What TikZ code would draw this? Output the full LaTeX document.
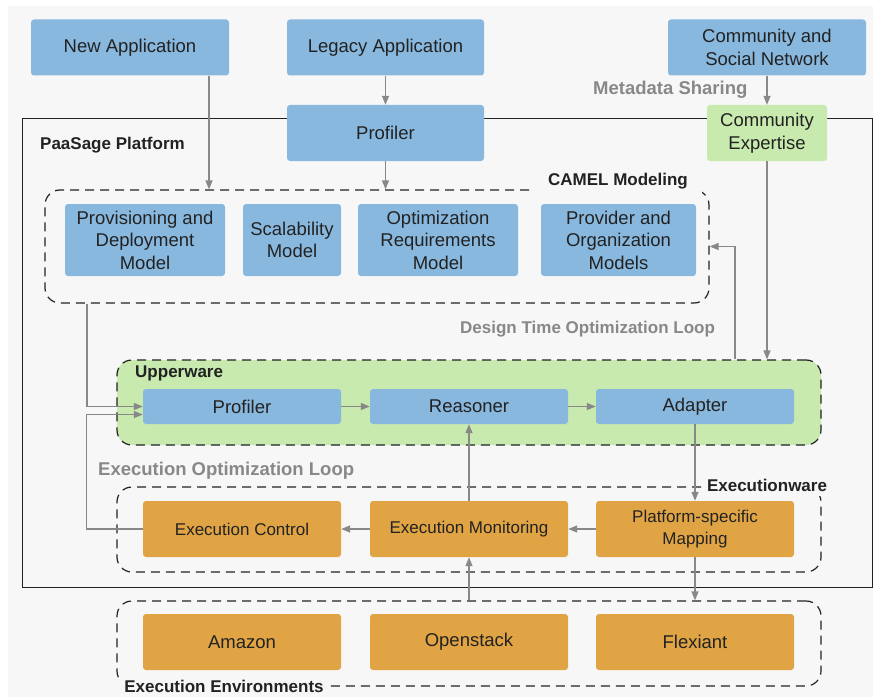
\documentclass[tikz,border=0pt]{standalone}
\usepackage{fontspec}
\setmainfont{Liberation Sans}
\usetikzlibrary{arrows.meta}
\definecolor{bg}{HTML}{F7F7F7}
\definecolor{boxblue}{HTML}{89B8DF}
\definecolor{boxorange}{HTML}{E0A445}
\definecolor{boxgreen}{HTML}{C8EAAE}
\definecolor{arrgray}{HTML}{888888}
\definecolor{ink}{HTML}{222222}
\begin{document}
\begin{tikzpicture}[x=1pt,y=-1pt,
  box/.style={fill=boxblue,rounded corners=3pt,text=ink,align=center,inner sep=0pt,
    minimum width=198pt,minimum height=56pt,font=\fontsize{18.5}{22.5}\selectfont},
  runbox/.style={box,fill=boxorange},
  group/.style={draw=ink,line width=1.2pt,dash pattern=on 9pt off 6pt,rounded corners=15pt,inner sep=0pt},
  title/.style={text=ink,font=\fontsize{17}{20}\selectfont\bfseries,inner sep=0pt},
  loop/.style={text=arrgray,font=\fontsize{17}{20}\selectfont\bfseries,inner sep=0pt},
  arr/.style={draw=arrgray,line width=1.3pt,-{Triangle[length=9pt,width=7pt]}}]
\useasboundingbox (0,0) rectangle (875,698);
\fill[bg] (8,6) rectangle (873,697);
\draw[ink,line width=1pt] (22,119) rectangle (872,587);

% groups
\node[group,minimum width=664pt,minimum height=113pt] (camel) at (377,246.5) {};
\node[group,fill=boxgreen,minimum width=704pt,minimum height=85pt] (upper) at (469,402.5) {};
\node[group,minimum width=704pt,minimum height=85pt] (exware) at (469,529.5) {};
\node[group,minimum width=704pt,minimum height=85pt] (env) at (469,643.5) {};
\node[title,fill=bg,inner xsep=14pt,inner ysep=5pt] (camellbl) at (618,181) {CAMEL Modeling};
\node[title,fill=bg,inner xsep=3pt,inner ysep=5pt] (exlbl) at (767,485) {Executionware};
\node[title,fill=bg,inner xsep=3pt,inner ysep=5pt] (envlbl) at (224,686) {Execution Environments};
\node[title,anchor=west] (paaslbl) at (40,145) {PaaSage Platform};
\node[title,anchor=west] (upperlbl) at (135,373) {Upperware};

% boxes
\node[box] (newapp) at (130,47.5) {New Application};
\node[box,minimum width=197pt] (legacy) at (385.5,47.5) {Legacy Application};
\node[box] (commnet) at (767,47.5) {Community and\\Social Network};
\node[box,minimum width=197pt] (profA) at (385.5,133) {Profiler};
\node[box,fill=boxgreen,minimum width=120pt] (expert) at (767,133) {Community\\Expertise};
\node[box,minimum width=160pt,minimum height=72pt] (prov) at (145,240) {Provisioning and\\Deployment\\Model};
\node[box,minimum width=98pt,minimum height=72pt] (scal) at (292,240) {Scalability\\Model};
\node[box,minimum width=160pt,minimum height=72pt] (optreq) at (438,240) {Optimization\\Requirements\\Model};
\node[box,minimum width=155pt,minimum height=72pt] (provorg) at (618.5,240) {Provider and\\Organization\\Models};
\node[box,minimum height=35pt] (prof) at (242,406.5) {Profiler};
\node[box,minimum height=35pt] (reas) at (469,406.5) {Reasoner};
\node[box,minimum height=35pt] (adapt) at (695,406.5) {Adapter};
\node[runbox,font=\fontsize{17}{21.5}\selectfont] (exctl) at (242,529) {Execution Control};
\node[runbox,font=\fontsize{17}{21.5}\selectfont] (exmon) at (469,529) {Execution Monitoring};
\node[runbox,font=\fontsize{17}{21.5}\selectfont] (mapping) at (695,529) {Platform-specific\\Mapping};
\node[runbox] (amazon) at (242,642) {Amazon};
\node[runbox] (openstack) at (469,642) {Openstack};
\node[runbox] (flexiant) at (695,642) {Flexiant};

\node[loop,anchor=west,font=\fontsize{18.5}{20}\selectfont\bfseries] (metalbl) at (593,90) {Metadata Sharing};
\node[loop,anchor=west] (dtlbl) at (460,329) {Design Time Optimization Loop};
\node[loop,anchor=west,font=\fontsize{18.5}{20}\selectfont\bfseries] (eolbl) at (98,471) {Execution Optimization Loop};

% connectors
\draw[arr] ([xshift=79pt]newapp.south) -- ([xshift=79pt]newapp.south |- camel.north);
\draw[arr] (legacy) -- (profA);
\draw[arr] (profA.south) -- (profA.south |- camel.north);
\draw[arr] (commnet) -- (expert);
\draw[arr] (expert.south) -- (expert.south |- upper.north);
\draw[arr] ([xshift=40pt]adapt.north |- upper.north) |- (camel.east);
\draw[arr] ([xshift=-290pt]camel.south) |- (prof.west);
\draw[arr] (exctl.west) -- ++(-56,0) |- ([yshift=-8pt]prof.west);
\draw[arr] (prof) -- (reas);
\draw[arr] (reas) -- (adapt);
\draw[arr] (adapt) -- (mapping);
\draw[arr] (mapping) -- (exmon);
\draw[arr] (exmon) -- (exctl);
\draw[arr] (exmon) -- (reas);
\draw[arr] (mapping.south) -- (mapping.south |- env.north);
\draw[arr] (openstack.north |- env.north) -- (exmon.south);
\end{tikzpicture}
\end{document}
